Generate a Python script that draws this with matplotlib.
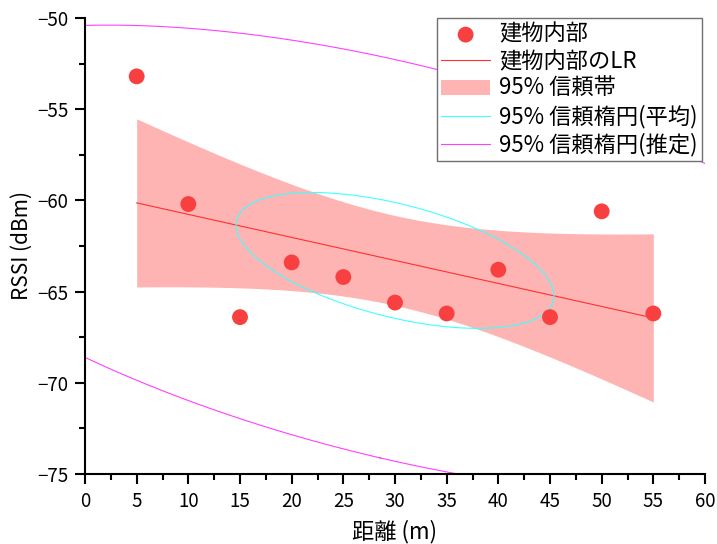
import numpy as np
import matplotlib
matplotlib.use("Agg")
import matplotlib.pyplot as plt
from matplotlib.ticker import MultipleLocator

plt.rcParams['font.family'] = ['Noto Sans CJK JP', 'DejaVu Sans']

distance = [5, 10, 15, 20, 25, 30, 35, 40, 45, 50, 55]
rssi = [-53.2, -60.2, -66.4, -63.4, -64.2, -65.6, -66.2, -63.8, -66.4, -60.6, -66.2]

# critical values for n = 11 (no scipy here)
T_975_DF9 = 2.2622
F_95_2_9 = 4.2565

x = np.array(distance, dtype=float)
y = np.array(rssi, dtype=float)
n = len(x)

# linear regression + 95% confidence band
xm, ym = x.mean(), y.mean()
sxx = ((x - xm) ** 2).sum()
slope = ((x - xm) * (y - ym)).sum() / sxx
icpt = ym - slope * xm
resid = y - (icpt + slope * x)
s = np.sqrt((resid ** 2).sum() / (n - 2))
xf = np.linspace(x.min(), x.max(), 200)
yf = icpt + slope * xf
half = T_975_DF9 * s * np.sqrt(1 / n + (xf - xm) ** 2 / sxx)


def conf_ellipse(scale):
    cov = np.cov(x, y)
    vals, vecs = np.linalg.eigh(cov)
    t = np.linspace(0, 2 * np.pi, 400)
    circ = np.vstack([np.cos(t), np.sin(t)])
    pts = vecs @ (np.sqrt(vals)[:, None] * circ) * scale
    return pts[0] + xm, pts[1] + ym


c_mean = np.sqrt(2 * (n - 1) / (n * (n - 2)) * F_95_2_9)
c_pred = np.sqrt(2 * (n + 1) * (n - 1) / (n * (n - 2)) * F_95_2_9)

fig = plt.figure(figsize=(7.17, 5.44), dpi=100)
ax = fig.add_axes([85 / 717, 70 / 544, 620 / 717, 456 / 544])

ax.fill_between(xf, yf - half, yf + half, color='#ffb4b4', lw=0, label='95% 信頼帯', zorder=1)
ax.plot(xf, yf, color='#ff3030', lw=0.8, label='建物内部のLR', zorder=2)
ex, ey = conf_ellipse(c_mean)
ax.plot(ex, ey, color='#40ffff', lw=0.8, label='95% 信頼楕円(平均)', zorder=2)
ex, ey = conf_ellipse(c_pred)
ax.plot(ex, ey, color='#ff40ff', lw=0.8, label='95% 信頼楕円(推定)', zorder=2)
ax.scatter(x, y, s=130, color='#f84040', edgecolors='none', label='建物内部', zorder=3)

ax.set_xlim(0, 60)
ax.set_ylim(-75, -50)
ax.xaxis.set_major_locator(MultipleLocator(5))
ax.xaxis.set_minor_locator(MultipleLocator(2.5))
ax.yaxis.set_major_locator(MultipleLocator(5))
ax.yaxis.set_minor_locator(MultipleLocator(2.5))

for side in ['top', 'right']:
    ax.spines[side].set_visible(False)
for side in ['left', 'bottom']:
    ax.spines[side].set_linewidth(1.5)
ax.tick_params(which='major', direction='out', length=7, width=1.5, labelsize=13.5, pad=5)
ax.tick_params(which='minor', direction='out', length=4, width=1.5)

ax.set_xlabel('距離 (m)', fontsize=16, labelpad=6)
ax.set_ylabel('RSSI (dBm)', fontsize=15, labelpad=3)

h, l = ax.get_legend_handles_labels()
order = [l.index(k) for k in ['建物内部', '建物内部のLR', '95% 信頼帯', '95% 信頼楕円(平均)', '95% 信頼楕円(推定)']]
leg = ax.legend([h[i] for i in order], [l[i] for i in order], loc='upper right',
                bbox_to_anchor=(0.995, 1.0), fontsize=16, fancybox=False,
                edgecolor='#707070', framealpha=1, borderpad=0.2, labelspacing=0.2,
                handlelength=2.2, handletextpad=0.4, borderaxespad=0.0)
leg.get_frame().set_linewidth(1.0)

fig.savefig('out.png', dpi=100)
